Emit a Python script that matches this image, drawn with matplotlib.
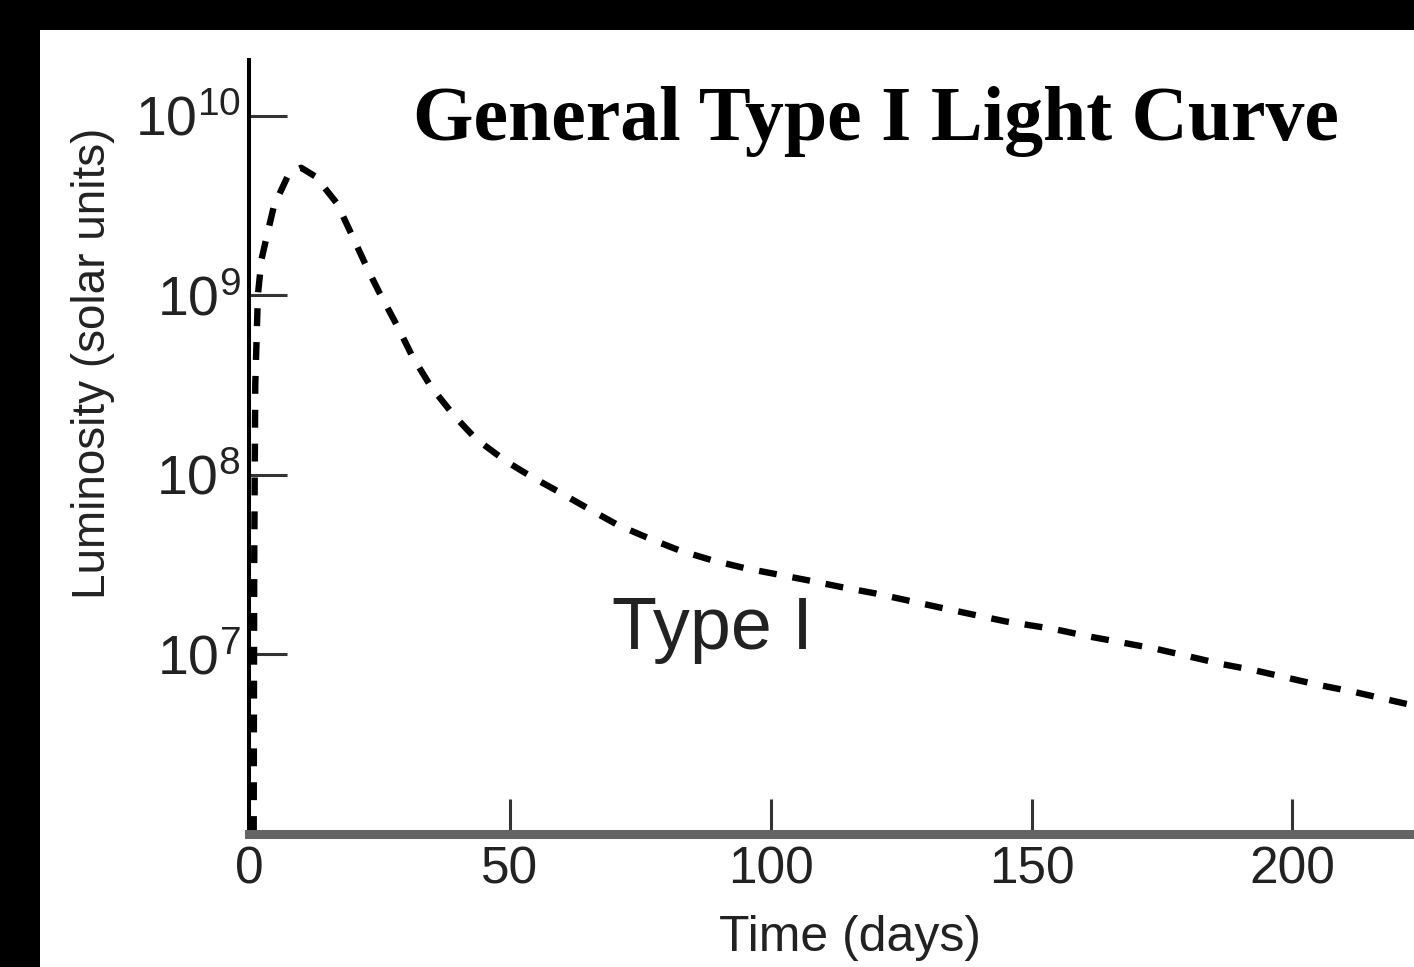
import numpy as np
import matplotlib.pyplot as plt
from matplotlib.patches import Rectangle
from matplotlib.ticker import FixedLocator, NullLocator

# light curve: time in days, log10 of luminosity (solar units)
days = [0.9, 1.0, 1.2, 1.7, 2.4, 3.5, 4.8, 7.7, 10.0, 12.8, 16.9, 19.8, 23.0, 24.9,
        28.4, 31.3, 34.9, 39.3, 43.5, 49.3, 54.1, 59.4, 65.2, 70.8, 77.1, 82.6,
        88.8, 95.1, 101.2, 107.6, 113.7, 120.0, 126.0, 132.3, 138.6, 145.0, 154.5,
        161.0, 167.0, 174.0, 180.0, 186.5, 193.0, 199.0, 205.0, 212.0, 218.0, 224.0]
log_lum = [6.0, 7.5, 8.5, 9.0, 9.2, 9.34, 9.5, 9.68, 9.71, 9.66, 9.51, 9.33, 9.13, 9.02,
           8.83, 8.66, 8.49, 8.33, 8.20, 8.075, 7.99, 7.905, 7.809, 7.719, 7.641, 7.578,
           7.524, 7.48, 7.446, 7.41, 7.374, 7.34, 7.302, 7.262, 7.223, 7.184, 7.14,
           7.10, 7.068, 7.03, 6.99, 6.946, 6.91, 6.87, 6.83, 6.79, 6.75, 6.71]

xticks = [0, 50, 100, 150, 200]
ydecades = [7, 8, 9, 10]

lum = 10.0 ** np.array(log_lum)

W, H = 1414, 967
fig = plt.figure(figsize=(W / 100, H / 100), dpi=100)
fig.patch.set_facecolor("black")
fig.add_artist(Rectangle((40 / W, 0), 1 - 40 / W, 1 - 30 / H, transform=fig.transFigure,
                         facecolor="white", edgecolor="none", zorder=0))

plt.rcParams["mathtext.default"] = "regular"
sans = "Liberation Sans"

ax = fig.add_axes([249 / W, 1 - 834 / H, 1 - 249 / W, (834 - 60) / H])
ax.set_facecolor("white")
ax.plot(days, lum, color="black", linewidth=4.6, linestyle=(0, (2.8, 2.5)))

ax.set_yscale("log")
ax.set_xlim(0, 223.3)
ax.set_ylim(1e6, 10 ** 10.31)

ax.xaxis.set_major_locator(FixedLocator(xticks))
ax.set_xticklabels([str(t) for t in xticks], fontsize=37, family=sans, color="#222222")
ax.yaxis.set_major_locator(FixedLocator([10.0 ** d for d in ydecades]))
ax.yaxis.set_minor_locator(NullLocator())
ax.set_yticklabels(["$10^{%d}$" % d for d in ydecades], fontsize=40, family=sans, color="#222222")

ax.tick_params(axis="x", direction="in", length=25, width=2.2, color="#333333", pad=8)
ax.tick_params(axis="y", direction="in", length=27, width=2.2, color="#333333", pad=6)

for s in ["top", "right"]:
    ax.spines[s].set_visible(False)
ax.spines["left"].set_color("black")
ax.spines["left"].set_linewidth(2.9)
ax.spines["bottom"].set_color("#646464")
ax.spines["bottom"].set_linewidth(6.5)

ax.set_xlabel("Time (days)", fontsize=36, family=sans, color="#222222")
ax.xaxis.label.set_va("baseline")
ax.xaxis.set_label_coords(0.516, -0.151)
ax.set_ylabel("Luminosity (solar units)", fontsize=33, family=sans, color="#222222")
ax.yaxis.set_label_coords(-0.115, 0.6085)

ax.text(69.6, 10 ** 7.03, "Type I", fontsize=53, family=sans, color="#222222",
        ha="left", va="baseline")

fig.text(413 / W, 1 - 140 / H, "General Type I Light Curve", fontsize=56,
         family="Liberation Serif", fontweight="bold", color="black",
         ha="left", va="baseline")

fig.savefig("out.png", dpi=100, facecolor=fig.get_facecolor())
